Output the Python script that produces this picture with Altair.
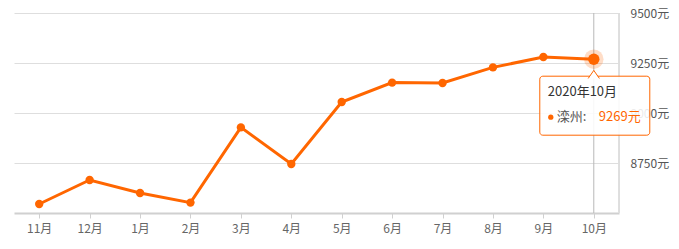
import altair as alt
import pandas as pd

# Monthly average listing price (元/㎡) for 滦州
months = ["11月", "12月", "1月", "2月", "3月", "4月", "5月", "6月", "7月", "8月", "9月", "10月"]
prices = [8545, 8665, 8600, 8552, 8928, 8745, 9055, 9152, 9150, 9228, 9280, 9269]
y_ticks = [8750, 9000, 9250, 9500]

city = "滦州"
focus_month = "10月"
focus_title = "2020年10月"

ORANGE = "#ff6600"
FONT = "Noto Sans CJK SC"

df = pd.DataFrame({"month": months, "price": prices})
df["label"] = [f"{p}元" for p in prices]
df["title"] = [focus_title if m == focus_month else "" for m in months]
df["city"] = [f"{city}:" for _ in months]

x_enc = alt.X(
    "month:N",
    sort=months,
    scale=alt.Scale(type="point", padding=0.5),
    axis=alt.Axis(
        title=None,
        labelAngle=0,
        labelColor="#666",
        labelFontSize=12,
        labelFont=FONT,
        labelPadding=5,
        domainColor="#d0d0d0",
        domainWidth=2,
        tickColor="#d0d0d0",
        tickSize=5,
        grid=False,
    ),
)
y_enc = alt.Y(
    "price:Q",
    scale=alt.Scale(domain=[8500, 9500], nice=False, zero=False),
    axis=alt.Axis(
        title=None,
        orient="right",
        values=y_ticks,
        labelExpr="datum.value + '元'",
        labelColor="#555",
        labelFontSize=12,
        labelFont=FONT,
        labelPadding=11,
        tickSize=0,
        domain=False,
        grid=True,
        gridColor="#dedede",
        gridWidth=1,
    ),
)

base = alt.Chart(df)
focus = base.transform_filter(alt.datum.month == focus_month)

right_border = base.mark_rule(color="#dedede", strokeWidth=1).encode(
    x=alt.value(605), y=alt.value(0), y2=alt.value(200)
)

crosshair = focus.mark_rule(color="#b8b8b8", strokeWidth=1).encode(
    x=x_enc, y=alt.value(0), y2=alt.value(200)
)

line = base.mark_line(color=ORANGE, strokeWidth=3).encode(x=x_enc, y=y_enc)
points = base.mark_circle(color=ORANGE, size=70, opacity=1).encode(x=x_enc, y=y_enc)

halo = focus.mark_circle(color=ORANGE, size=380, opacity=0.22).encode(x=x_enc, y=y_enc)
focus_dot = focus.mark_circle(color=ORANGE, size=130, opacity=1).encode(x=x_enc, y=y_enc)

# Tooltip-style callout anchored to the focused point
box = focus.mark_rect(
    fill="white",
    fillOpacity=0.88,
    stroke=ORANGE,
    strokeWidth=1,
    cornerRadius=3,
    xOffset=-54,
    x2Offset=56,
    yOffset=17,
    y2Offset=76,
).encode(x=x_enc, x2=alt.X2("month:N"), y=y_enc, y2=alt.Y2("price:Q"))

pointer = focus.mark_point(
    shape="M-0.8,0.75L0,-0.4L0.8,0.75",
    size=196,
    filled=True,
    fill="white",
    stroke=ORANGE,
    strokeWidth=1,
    opacity=1,
    yOffset=14,
).encode(x=x_enc, y=y_enc)

title_text = focus.mark_text(
    align="left", baseline="middle", dx=-46, dy=33,
    fontSize=13, font=FONT, color="#333",
).encode(x=x_enc, y=y_enc, text="title:N")

legend_dot = focus.mark_circle(
    color=ORANGE, size=28, opacity=1, xOffset=-43, yOffset=58
).encode(x=x_enc, y=y_enc)

city_text = focus.mark_text(
    align="left", baseline="middle", dx=-37, dy=58,
    fontSize=13, font=FONT, color="#555",
).encode(x=x_enc, y=y_enc, text="city:N")

value_text = focus.mark_text(
    align="left", baseline="middle", dx=5, dy=58,
    fontSize=13, font=FONT, color=ORANGE,
).encode(x=x_enc, y=y_enc, text="label:N")

chart = (
    alt.layer(
        right_border, crosshair, line, points, halo, focus_dot,
        box, pointer, title_text, legend_dot, city_text, value_text,
    )
    .properties(
        width=605,
        height=200,
        autosize=alt.AutoSizeParams(type="none"),
        padding={"left": 14, "top": 13, "right": 60, "bottom": 36},
        background="white",
    )
    .configure_view(stroke=None)
)

chart.save("out.html", embed_options={"renderer": "svg", "actions": False})
